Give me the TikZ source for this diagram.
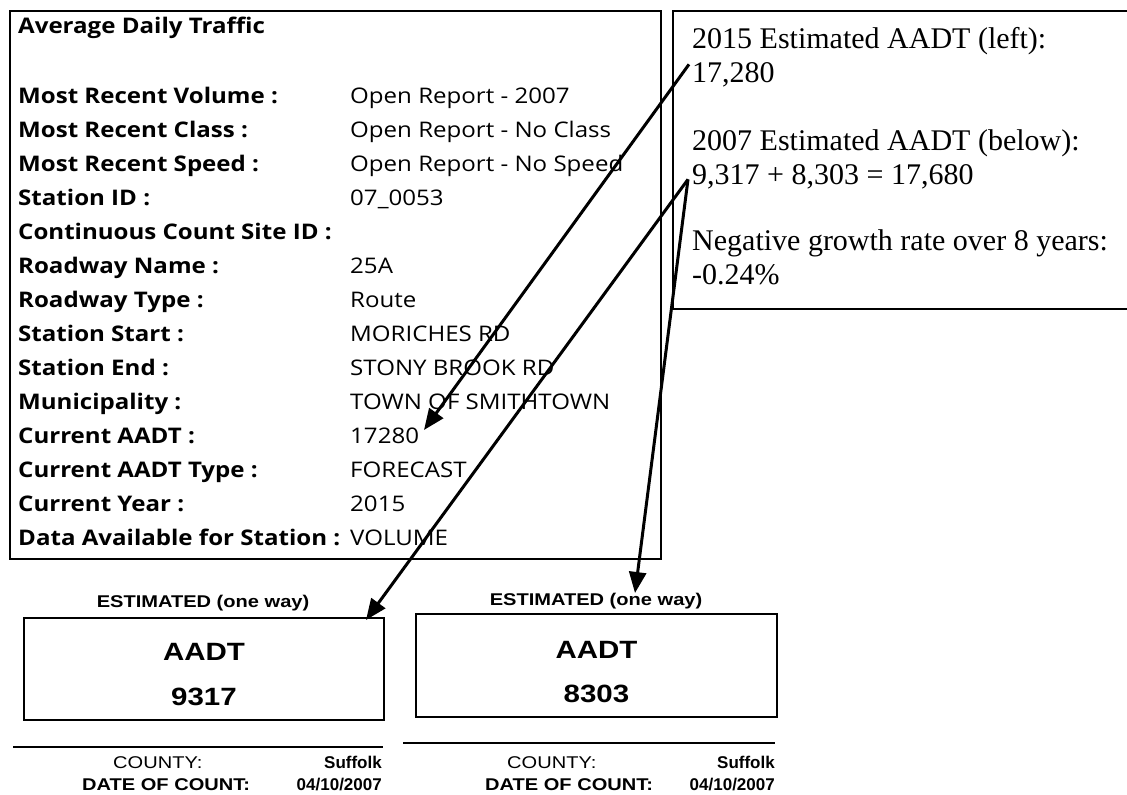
\documentclass[tikz,border=0pt]{standalone}
\usepackage{fontspec}
\setmainfont{Liberation Serif}
\newfontfamily\osans[FakeStretch=1.12]{Open Sans}
\newfontfamily\arial{Liberation Sans}
\newfontfamily\arialw[FakeStretch=1.18]{Liberation Sans}
\usetikzlibrary{arrows.meta}
\begin{document}
\begin{tikzpicture}[x=1pt,y=-1pt,
  lab/.style={anchor=base west, inner sep=0pt, font=\osans\bfseries\fontsize{21.5}{21.5}\selectfont},
  val/.style={anchor=base west, inner sep=0pt, font=\osans\fontsize{21.5}{21.5}\selectfont},
  note/.style={anchor=base west, inner sep=0pt, font=\fontsize{30}{30}\selectfont},
  est/.style={anchor=base, inner sep=0pt, font=\arialw\bfseries\fontsize{17}{17}\selectfont},
  big/.style={anchor=base, inner sep=0pt, font=\arialw\bfseries\fontsize{25}{25}\selectfont},
  small/.style={inner sep=0pt, font=\arialw\fontsize{17}{17}\selectfont},
  smallb/.style={inner sep=0pt, font=\arialw\bfseries\fontsize{17}{17}\selectfont},
  smallv/.style={inner sep=0pt, font=\arial\bfseries\fontsize{17}{17}\selectfont},
  frame/.style={draw, line width=2pt, inner sep=0pt, anchor=north west},
  arr/.style={line width=3pt, -{Triangle[length=21pt,width=17pt]}}]
\useasboundingbox (0,0) rectangle (1127,795);

% main data box
\node[frame, minimum width=651pt, minimum height=548pt] (lbox) at (9,10) {};
\node[lab] (hd) at (18,33) {Average Daily Traffic};
\node[lab] (l1) at (18,103) {Most Recent Volume :};
\node[lab] (l2) at (18,137) {Most Recent Class :};
\node[lab] (l3) at (18,171) {Most Recent Speed :};
\node[lab] (l4) at (18,205) {Station ID :};
\node[lab] (l5) at (18,239) {Continuous Count Site ID :};
\node[lab] (l6) at (18,273) {Roadway Name :};
\node[lab] (l7) at (18,307) {Roadway Type :};
\node[lab] (l8) at (18,341) {Station Start :};
\node[lab] (l9) at (18,375) {Station End :};
\node[lab] (l10) at (18,409) {Municipality :};
\node[lab] (l11) at (18,443) {Current AADT :};
\node[lab] (l12) at (18,477) {Current AADT Type :};
\node[lab] (l13) at (18,511) {Current Year :};
\node[lab] (l14) at (18,545) {Data Available for Station :};
\node[val] (v1) at (350,103) {Open Report - 2007};
\node[val] (v2) at (350,137) {Open Report - No Class};
\node[val] (v3) at (350,171) {Open Report - No Speed};
\node[val] (v4) at (350,205) {07\_0053};
\node[val] (v6) at (350,273) {25A};
\node[val] (v7) at (350,307) {Route};
\node[val] (v8) at (350,341) {MORICHES RD};
\node[val] (v9) at (350,375) {STONY BROOK RD};
\node[val] (v10) at (350,409) {TOWN OF SMITHTOWN};
\node[val] (v11) at (350,443) {17280};
\node[val] (v12) at (350,477) {FORECAST};
\node[val] (v13) at (350,511) {2015};
\node[val] (v14) at (350,545) {VOLUME};

% note box
\node[frame, minimum width=460pt, minimum height=298pt] (rbox) at (672,10) {};
\node[note] (n1) at (692,48) {2015 Estimated AADT (left):};
\node[note] (n2) at (692,82) {17,280};
\node[note] (n3) at (692,150) {2007 Estimated AADT (below):};
\node[note] (n4) at (692,184) {9,317 + 8,303 = 17,680};
\node[note] (n5) at (692,250) {Negative growth rate over 8 years:};
\node[note] (n6) at (692,284) {-0.24\%};

% bottom left count
\node[est] (e1) at (203,607) {ESTIMATED (one way)};
\node[frame, minimum width=360pt, minimum height=102pt] (b1) at (23,617) {};
\node[big] (a1) at (b1.center |- 0,660) {AADT};
\node[big] (c1) at (b1.center |- 0,705) {9317};
\coordinate (s1a) at (13,747);
\coordinate (s1b) at (383,747);
\draw[line width=1.6pt] (s1a) -- (s1b);
\node[small, anchor=base west] (k1) at (113,768) {COUNTY:};
\node[smallv, anchor=base east] (k2) at (382,768) {Suffolk};
\node[smallb, anchor=base west] (k3) at (82,790) {DATE OF COUNT:};
\node[smallv, anchor=base east] (k4) at (382,790) {04/10/2007};

% bottom right count
\node[est] (e2) at (596,605) {ESTIMATED (one way)};
\node[frame, minimum width=361pt, minimum height=103pt] (b2) at (415,613) {};
\node[big] (a2) at (b2.center |- 0,658) {AADT};
\node[big] (c2) at (b2.center |- 0,702) {8303};
\coordinate (s2a) at (403,743);
\coordinate (s2b) at (775,743);
\draw[line width=1.6pt] (s2a) -- (s2b);
\node[small, anchor=base west] (m1) at (507,768) {COUNTY:};
\node[smallv, anchor=base east] (m2) at (775,768) {Suffolk};
\node[smallb, anchor=base west] (m3) at (485,790) {DATE OF COUNT:};
\node[smallv, anchor=base east] (m4) at (775,790) {04/10/2007};

% arrows
\coordinate (t1) at (424,430);
\coordinate (t2) at (366,620);
\coordinate (t3) at (635,593);
\draw[arr] ([xshift=-3pt,yshift=10pt]n2.west) -- (t1);
\draw[arr] ([xshift=-4pt,yshift=-3pt]n4.west) -- (t2);
\draw[arr] ([xshift=-4pt,yshift=-3pt]n4.west) -- (t3);
\end{tikzpicture}
\end{document}
